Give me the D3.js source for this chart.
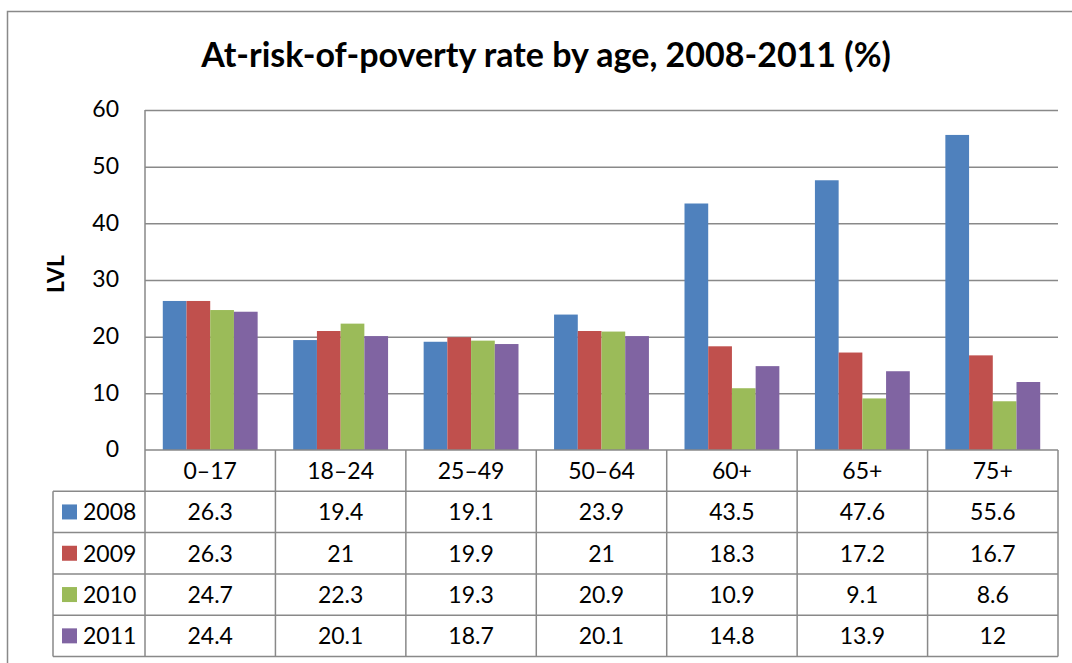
<!DOCTYPE html>
<html>
<head>
<meta charset="utf-8">
<script src="https://cdn.jsdelivr.net/npm/d3@7/dist/d3.min.js"></script>
<style>
  html, body { margin: 0; padding: 0; background: #fff; }
  svg { display: block; font-family: Lato, "Open Sans", sans-serif; }
</style>
</head>
<body>
<div id="chart"></div>
<script>
// data
var CATEGORIES = ["0–17", "18–24", "25–49", "50–64", "60+", "65+", "75+"];
var YEARS = ["2008", "2009", "2010", "2011"];
var V2008 = [26.3, 19.4, 19.1, 23.9, 43.5, 47.6, 55.6];
var V2009 = [26.3, 21, 19.9, 21, 18.3, 17.2, 16.7];
var V2010 = [24.7, 22.3, 19.3, 20.9, 10.9, 9.1, 8.6];
var V2011 = [24.4, 20.1, 18.7, 20.1, 14.8, 13.9, 12];
var Y_TICKS = [0, 10, 20, 30, 40, 50, 60];

var SERIES = [V2008, V2009, V2010, V2011];
var COLORS = ["#4F81BD", "#C0504D", "#9BBB59", "#8064A2"];

var W = 1072, H = 663;
var plotL = 145, plotR = 1058, plotT = 110, plotB = 450;
var rowH = 41.3, legendL = 53;
var gridCol = "#898989";

var svg = d3.select("#chart").append("svg").attr("width", W).attr("height", H);

// outer chart frame (runs past the right / bottom edge)
svg.append("rect").attr("x", 7.5).attr("y", 11.5).attr("width", W + 20).attr("height", H + 20)
  .attr("fill", "none").attr("stroke", gridCol).attr("stroke-width", 1.5);

svg.append("text").attr("x", 546).attr("y", 67).attr("text-anchor", "middle")
  .attr("font-size", 34).attr("font-weight", "bold").attr("fill", "#000")
  .text("At-risk-of-poverty rate by age, 2008-2011 (%)");

var x = d3.scaleBand().domain(CATEGORIES).range([plotL, plotR]).paddingInner(0).paddingOuter(0);
var y = d3.scaleLinear().domain([0, 60]).range([plotB, plotT]);
// gap width 150% between groups
var inner = d3.scaleBand().domain(YEARS).range([0, x.bandwidth()]).paddingInner(0)
  .paddingOuter(0.75);

// gridlines
var yAxis = d3.axisLeft(y).tickValues(Y_TICKS).tickSize(-(plotR - plotL)).tickPadding(26);
var gy = svg.append("g").attr("transform", "translate(" + plotL + ",0)").call(yAxis);
gy.select(".domain").remove();
gy.selectAll(".tick line").attr("stroke", gridCol).attr("stroke-width", 1.5)
  .filter(function (d) { return d === 0; }).remove();
gy.selectAll(".tick text").attr("font-size", 23).attr("fill", "#000")
  .attr("font-family", "Lato, 'Open Sans', sans-serif").attr("dy", "0.3em");

svg.append("line").attr("x1", plotL).attr("x2", plotL).attr("y1", plotT).attr("y2", plotB)
  .attr("stroke", gridCol).attr("stroke-width", 1.5);

svg.append("text").attr("transform", "translate(64,274) rotate(-90)")
  .attr("text-anchor", "middle").attr("font-size", 23).attr("font-weight", "bold").text("LVL");

// bars
SERIES.forEach(function (vals, si) {
  svg.append("g").selectAll("rect").data(vals).enter().append("rect")
    .attr("x", function (d, i) { return x(CATEGORIES[i]) + inner(YEARS[si]); })
    .attr("width", inner.bandwidth())
    .attr("y", function (d) { return y(d); })
    .attr("height", function (d) { return plotB - y(d); })
    .attr("fill", COLORS[si]);
});

// data table
var tbl = svg.append("g").attr("stroke", gridCol).attr("stroke-width", 1.5);
var tableB = plotB + rowH * 5;
tbl.append("line").attr("x1", plotL).attr("x2", plotR).attr("y1", plotB).attr("y2", plotB);
for (var r = 1; r <= 5; r++) {
  tbl.append("line").attr("x1", legendL).attr("x2", plotR)
    .attr("y1", plotB + rowH * r).attr("y2", plotB + rowH * r);
}
tbl.append("line").attr("x1", legendL).attr("x2", legendL).attr("y1", plotB + rowH).attr("y2", tableB);
CATEGORIES.forEach(function (c) {
  tbl.append("line").attr("x1", x(c)).attr("x2", x(c)).attr("y1", plotB).attr("y2", tableB);
});
tbl.append("line").attr("x1", plotR).attr("x2", plotR).attr("y1", plotB).attr("y2", tableB);

var cellFont = 23;
svg.append("g").selectAll("text").data(CATEGORIES).enter().append("text")
  .attr("x", function (d) { return x(d) + x.bandwidth() / 2; })
  .attr("y", plotB + rowH / 2).attr("dy", "0.36em").attr("text-anchor", "middle")
  .attr("font-size", cellFont).text(function (d) { return d; });

SERIES.forEach(function (vals, si) {
  var cy = plotB + rowH * (si + 1) + rowH / 2;
  svg.append("rect").attr("x", 62).attr("y", cy - 7.5).attr("width", 15).attr("height", 15)
    .attr("fill", COLORS[si]);
  svg.append("text").attr("x", 83).attr("y", cy).attr("dy", "0.36em")
    .attr("font-size", cellFont).text(YEARS[si]);
  svg.append("g").selectAll("text").data(vals).enter().append("text")
    .attr("x", function (d, i) { return x(CATEGORIES[i]) + x.bandwidth() / 2; })
    .attr("y", cy).attr("dy", "0.36em").attr("text-anchor", "middle")
    .attr("font-size", cellFont).text(function (d) { return String(d); });
});
</script>
</body>
</html>
